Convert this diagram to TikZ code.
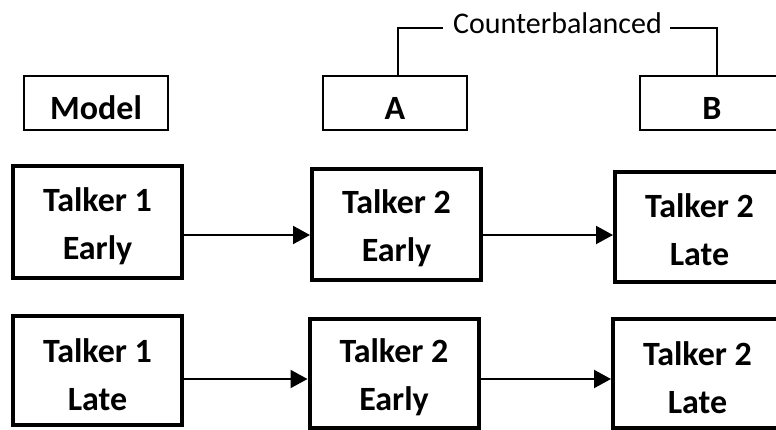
\documentclass[tikz,border=0pt]{standalone}
\usepackage{fontspec}
\setmainfont{Carlito}
\usetikzlibrary{arrows.meta}
\begin{document}
\begin{tikzpicture}[x=1pt,y=-1pt,
  hdr/.style={draw, line width=2pt, minimum width=144pt, minimum height=54pt, inner sep=0pt},
  tbox/.style={draw, line width=4pt, minimum width=169pt, minimum height=110pt, inner sep=0pt},
  htxt/.style={inner sep=0pt, font=\fontsize{34}{40}\selectfont\bfseries},
  ttxt/.style={inner sep=0pt, align=center, font=\fontsize{34}{48}\selectfont\bfseries},
  arr/.style={line width=2pt, -{Triangle[length=17pt,width=18pt]}},
  brk/.style={line width=2pt}]
\useasboundingbox (0,0) rectangle (776,429);
\clip (0,0) rectangle (776,429);
% header boxes
\node[hdr] (model) at (96,103) {};
\node[hdr] (A) at (395,103) {};
\node[hdr] (B) at (712,103) {};
\node[htxt] at ([yshift=-5pt]model.center) {Model};
\node[htxt] at ([yshift=-5pt]A.center) {A};
\node[htxt] at ([yshift=-5pt]B.center) {B};
% counterbalanced bracket
\node[font=\fontsize{30}{36}\selectfont, inner sep=0pt] (cb) at (557.5,23) {Counterbalanced};
\coordinate (cbl) at (443,28);
\coordinate (cbr) at (670,28);
\coordinate (ax) at (398,0);
\coordinate (bx) at (717,0);
\draw[brk] (cbl) -| (A.north -| ax);
\draw[brk] (cbr) -| (B.north -| bx);
% talker boxes
\node[tbox, minimum height=112pt] (t1e) at (97.5,222) {};
\node[tbox, minimum height=111pt] (t2e) at (396.5,224.5) {};
\node[tbox, minimum height=110pt] (t2l) at (699.5,227) {};
\node[tbox, minimum height=109pt] (t1l) at (97.5,370.5) {};
\node[tbox, minimum height=109pt] (t2eb) at (394,373.5) {};
\node[tbox, minimum height=109pt] (t2lb) at (697.5,373.5) {};
\node[ttxt] at ([yshift=-4pt]t1e.center) {Talker 1\\Early};
\node[ttxt] at ([yshift=-4pt]t2e.center) {Talker 2\\Early};
\node[ttxt] at ([yshift=-3pt]t2l.center) {Talker 2\\Late};
\node[ttxt] at ([yshift=-4pt]t1l.center) {Talker 1\\Late};
\node[ttxt] at ([yshift=-4pt]t2eb.center) {Talker 2\\Early};
\node[ttxt] at ([yshift=-4pt]t2lb.center) {Talker 2\\Late};
% arrows
\coordinate (r1) at (0,235);
\coordinate (r2) at (0,379);
\draw[arr] (t1e.east |- r1) -- (t2e.west |- r1);
\draw[arr] (t2e.east |- r1) -- (t2l.west |- r1);
\draw[arr] (t1l.east |- r2) -- (t2eb.west |- r2);
\draw[arr] (t2eb.east |- r2) -- (t2lb.west |- r2);
\end{tikzpicture}
\end{document}
